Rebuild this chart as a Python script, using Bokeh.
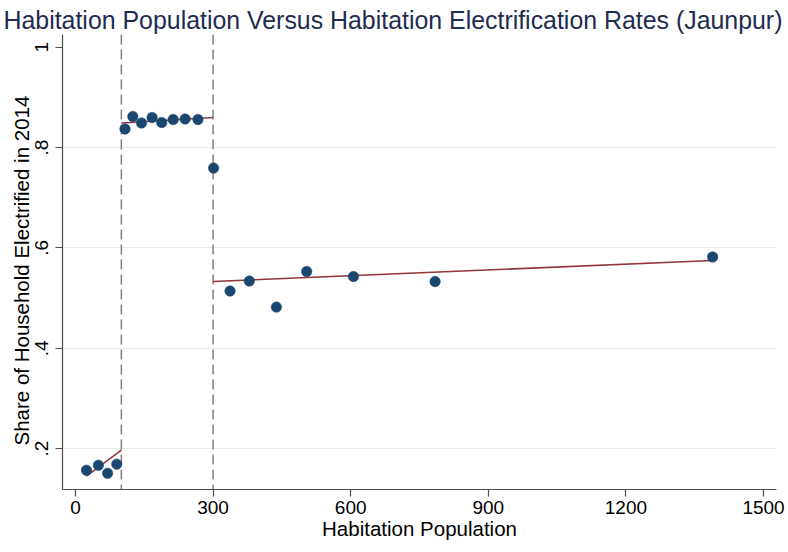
from bokeh.plotting import figure
from bokeh.models import Span, FixedTicker, CustomJSTickFormatter, Title, ColumnDataSource, Range1d
from bokeh.embed import file_html
from bokeh.resources import INLINE

# ---- data ----
pop_bin = [24, 50, 70, 90,
           108, 125, 144, 167, 188, 213, 239, 267, 301,
           337, 379, 438, 504, 606, 784, 1389]
share_elec = [0.157, 0.167, 0.151, 0.169,
              0.837, 0.862, 0.849, 0.860, 0.850, 0.856, 0.857, 0.856, 0.759,
              0.514, 0.534, 0.482, 0.553, 0.543, 0.533, 0.582]

fit_low_x = [24, 100]
fit_low_y = [0.145, 0.197]
fit_mid_x = [100, 300]
fit_mid_y = [0.849, 0.860]
fit_high_x = [300, 1389]
fit_high_y = [0.533, 0.575]

cutoffs = [100, 300]
x_ticks = [0, 300, 600, 900, 1200, 1500]
y_ticks = [0.2, 0.4, 0.6, 0.8, 1.0]
y_grid = [0.2, 0.4, 0.6, 0.8]

FONT = "Liberation Sans"
NAVY = "#1a476f"
MAROON = "#90353b"
AXIS = "#4d4d4d"

p = figure(width=788, height=552, output_backend="svg", toolbar_location=None,
           x_range=Range1d(-28.3, 1528.3), y_range=Range1d(0.1185, 1.0253),
           min_border_left=62, min_border_right=12, min_border_top=34, min_border_bottom=63)
p.outline_line_color = None
p.background_fill_color = "white"
p.border_fill_color = "white"

# title
p.title.text = "Habitation Population Versus Habitation Electrification Rates (Jaunpur)"
p.title.align = "left"
p.title.offset = -59
p.title.standoff = 0
p.title.vertical_align = "middle"
p.title.text_font = FONT
p.title.text_font_size = "24.9px"
p.title.text_font_style = "normal"
p.title.text_color = "#1e2c50"

# y title as a left-side Title so it can be offset along the axis
p.add_layout(Title(text="Share of Household Electrified in 2014", align="left", offset=44,
                   standoff=0, text_font=FONT, text_font_size="20.5px",
                   text_font_style="normal", text_color="black"), "left")

# grid
p.xgrid.visible = False
p.ygrid.ticker = FixedTicker(ticks=y_grid)
p.ygrid.grid_line_color = "#e3edf0"
p.ygrid.grid_line_width = 1

# axes
for ax in (p.xaxis[0], p.yaxis[0]):
    ax.axis_line_color = AXIS
    ax.axis_line_width = 1.2
    ax.major_tick_line_color = AXIS
    ax.major_tick_line_width = 1.2
    ax.major_tick_out = 7
    ax.major_tick_in = 0
    ax.minor_tick_out = 0
    ax.minor_tick_in = 0
    ax.major_label_text_font = FONT
    ax.major_label_text_font_size = "19px"
    ax.major_label_text_color = "black"
    ax.axis_label_text_font = FONT
    ax.axis_label_text_font_size = "20.5px"
    ax.axis_label_text_font_style = "normal"
    ax.axis_label_text_color = "black"

p.xaxis.ticker = FixedTicker(ticks=x_ticks)
p.xaxis.axis_label = "Habitation Population"
p.xaxis.axis_label_standoff = 0
p.xaxis.major_label_standoff = 4

p.yaxis.ticker = FixedTicker(ticks=y_ticks)
p.yaxis.formatter = CustomJSTickFormatter(
    code="var s = tick.toFixed(1); s = s.replace(/^0/, ''); return s.replace(/\\.0$/, '');")
p.yaxis.major_label_orientation = "vertical"
p.yaxis.major_label_standoff = 7

# cutoff lines
for c in cutoffs:
    p.add_layout(Span(location=c, dimension="height", line_color="#808080",
                      line_width=1.5, line_dash="10 5", level="underlay"))

# fit lines
p.line(fit_low_x, fit_low_y, line_color=MAROON, line_width=1.6)
p.line(fit_mid_x, fit_mid_y, line_color=MAROON, line_width=1.6)
p.line(fit_high_x, fit_high_y, line_color=MAROON, line_width=1.6)

# points
src = ColumnDataSource(data=dict(x=pop_bin, y=share_elec))
p.scatter("x", "y", source=src, size=10.5, fill_color=NAVY, line_color=NAVY, line_width=0.5)

open("out.html", "w").write(file_html(p, INLINE))
